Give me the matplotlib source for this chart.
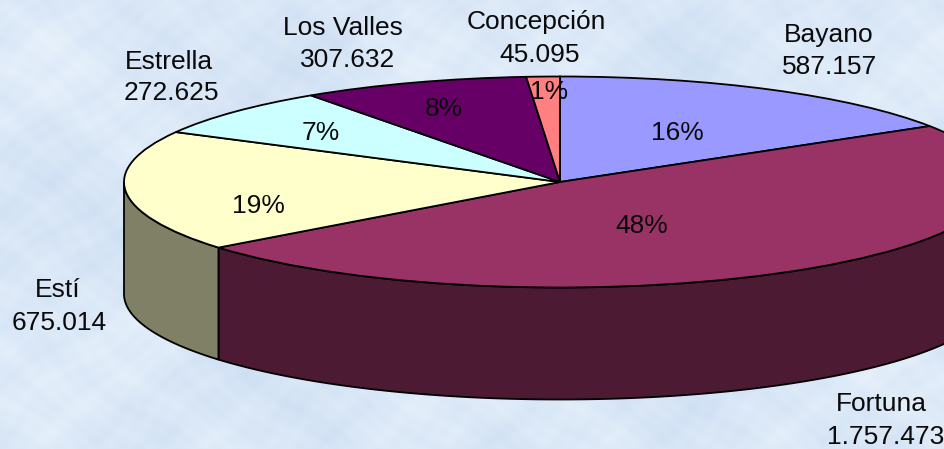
import numpy as np
import matplotlib
matplotlib.use("Agg")
import matplotlib.pyplot as plt
from matplotlib.colors import LinearSegmentedColormap

plt.rcParams['font.family'] = ['Liberation Sans', 'DejaVu Sans']

# datos
regiones = ["Bayano", "Fortuna", "Estí", "Estrella", "Los Valles", "Concepción"]
valores = [587157, 1757473, 675014, 272625, 307632, 45095]
colores = ["#9999ff", "#993366", "#ffffcc", "#ccffff", "#660066", "#ff8080"]
colores_lado = ["#4d4d80", "#4d1a33", "#808066", "#668080", "#330033", "#804040"]

W, H = 945, 449
CX, CY, RX, RY = 560, 182, 436, 105.5
PROF = 112 / RY

# posiciones de las etiquetas en pixeles
pos_nombre = [(829, 35), (881, 404), (58, 290), (169, 62), (343, 28), (536, 22)]
pos_valor = [(830, 67), (886, 437), (59, 323), (171, 93), (348, 60), (540, 55)]
pos_pct = [(677, 133), (642, 226), (258, 206), (321, 133), (444, 109), (549, 92)]

fig = plt.figure(figsize=(W / 100, H / 100), dpi=100)

# fondo azul claro con textura suave
ax_bg = fig.add_axes([0, 0, 1, 1], zorder=0)
yy, xx = np.mgrid[0:H, 0:W]
tex = (np.sin(xx / 29) * np.sin(yy / 31) + np.sin(xx / 13 + 1.1) * np.sin(yy / 9 + 0.4)
       + np.sin(xx / 67 + 0.7) * np.sin(yy / 47) * 1.5
       + 0.6 * np.sin(xx / 4.3 + 2 * np.sin(yy / 19)) * np.sin(yy / 3.7 + 2 * np.sin(xx / 23)))
cmap = LinearSegmentedColormap.from_list("fondo", ["#cddff3", "#dbe8f7", "#e9f3fb"])
ax_bg.imshow(tex, cmap=cmap, aspect="auto", interpolation="bilinear")
ax_bg.axis("off")

ax = fig.add_axes([0, 0, 1, 1], zorder=1)
ax.patch.set_alpha(0)

# paredes laterales, solo la parte de adelante
total = sum(valores)
borde = np.cumsum([0] + valores) / total * 2 * np.pi
for i in range(len(valores)):
    a0 = max(borde[i], np.pi / 2)
    a1 = min(borde[i + 1], 3 * np.pi / 2)
    if a1 <= a0:
        continue
    ang = np.linspace(a0, a1, 200)
    xs = np.sin(ang)
    ys = np.cos(ang)
    ax.fill(np.r_[xs, xs[::-1]], np.r_[ys, ys[::-1] - PROF],
            facecolor=colores_lado[i], edgecolor="black", linewidth=1.3, zorder=1,
            joinstyle="round")

ax.pie(valores, colors=colores, startangle=90, counterclock=False, radius=1,
       wedgeprops=dict(edgecolor="black", linewidth=1.3, zorder=2))

ax.set_aspect("auto")
ax.set_xlim((0 - CX) / RX, (W - CX) / RX)
ax.set_ylim((CY - H) / RY, (CY - 0) / RY)
ax.axis("off")


def texto(p, s):
    fig.text(p[0] / W, 1 - p[1] / H, s, ha="center", va="center",
             fontsize=19, color="#0a0a0a", zorder=5)


for i, nombre in enumerate(regiones):
    texto(pos_nombre[i], nombre)
    texto(pos_valor[i], f"{valores[i]:,}".replace(",", "."))
    texto(pos_pct[i], f"{round(100 * valores[i] / total)}%")

fig.savefig("out.png", dpi=100)
